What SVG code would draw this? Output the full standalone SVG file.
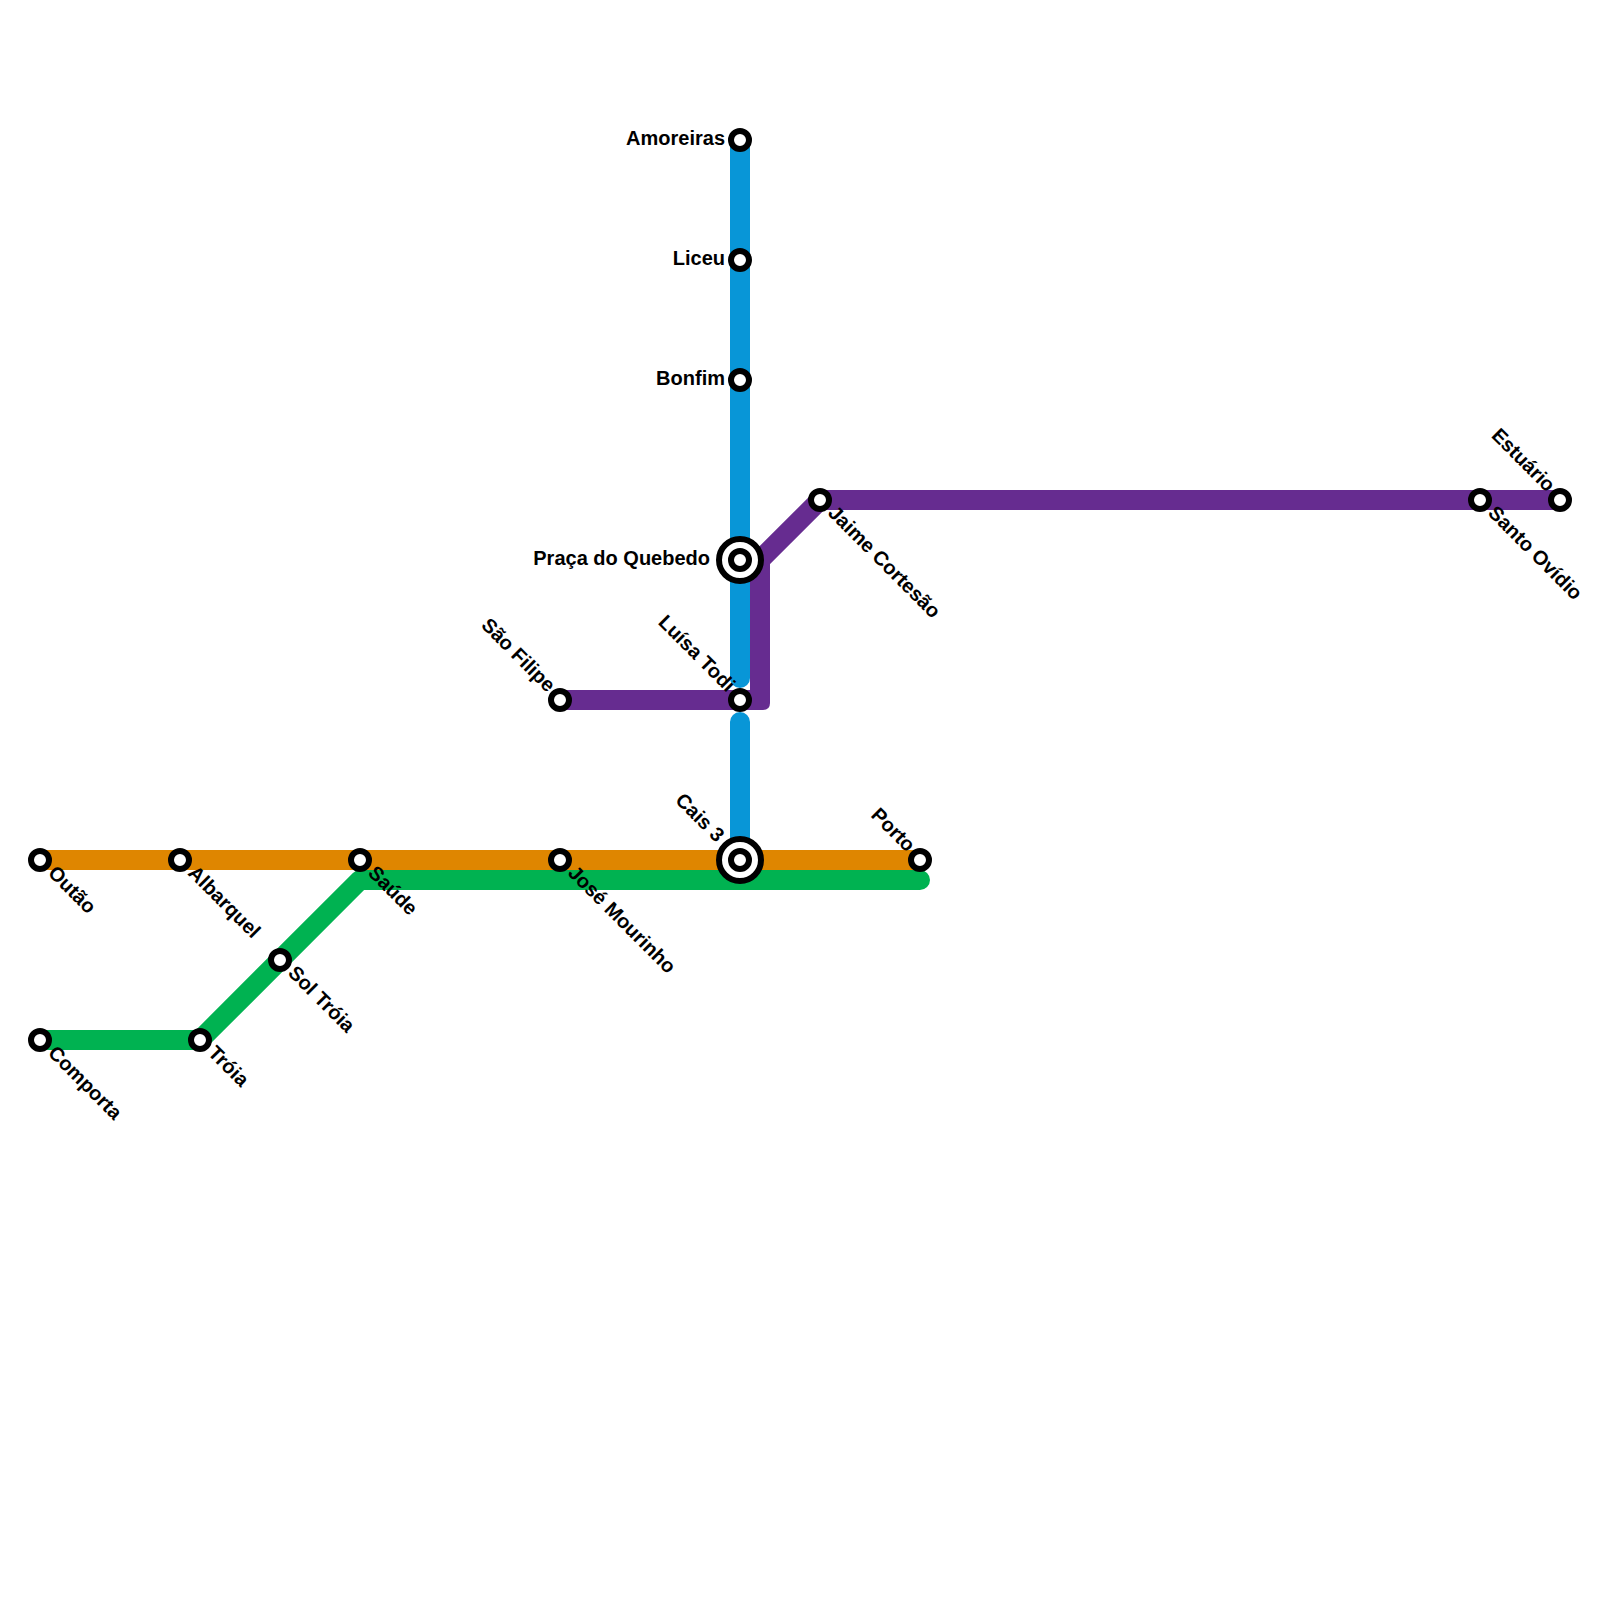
<svg xmlns="http://www.w3.org/2000/svg" width="1600" height="1600" viewBox="0 0 1600 1600">
<style>
.l{fill:none;stroke-width:20;stroke-linejoin:round;stroke-linecap:round}
.s{fill:#fff;stroke:#000;stroke-width:6}
.t{font-family:"Liberation Sans",Arial,sans-serif;font-size:20px;font-weight:700;fill:#000}
.e{text-anchor:end}
</style>
<rect width="1600" height="1600" fill="#fff"/>
<g id="connectors">
<path class="l" stroke="#df8600" d="M40 860H920"/>
<path class="l" stroke="#00b251" d="M40 1040H200L360 880H920"/>
<path class="l" stroke="#0896d7" d="M740 140V678M740 722V860"/>
<path fill="#662c90" d="M560 690H770V703Q770 710 763 710H560Z"/>
<path class="l" stroke="#662c90" style="stroke-linejoin:miter;stroke-linecap:butt" d="M760 700V560L820 500H1560"/>
</g>
<g id="amoreiras"><circle class="s" cx="740" cy="140" r="9"/><text class="t e" x="725" y="145">Amoreiras</text></g>
<g id="liceu"><circle class="s" cx="740" cy="260" r="9"/><text class="t e" x="725" y="265">Liceu</text></g>
<g id="bonfim"><circle class="s" cx="740" cy="380" r="9"/><text class="t e" x="725" y="385">Bonfim</text></g>
<g id="praca"><circle class="s" cx="740" cy="560" r="21"/><circle class="s" cx="740" cy="560" r="9"/><text class="t e" x="710" y="565">Praça do Quebedo</text></g>
<g id="luisa"><circle class="s" cx="740" cy="700" r="9"/><text class="t e" transform="translate(727 693) rotate(45)">Luísa Todi</text></g>
<g id="saofilipe"><circle class="s" cx="560" cy="700" r="9"/><text class="t e" transform="translate(547 693) rotate(45)">São Filipe</text></g>
<g id="cais"><circle class="s" cx="740" cy="860" r="21"/><circle class="s" cx="740" cy="860" r="9"/><text class="t e" transform="translate(716 843) rotate(45)">Cais 3</text></g>
<g id="porto"><circle class="s" cx="920" cy="860" r="9"/><text class="t e" transform="translate(907 853) rotate(45)">Porto</text></g>
<g id="jaime"><circle class="s" cx="820" cy="500" r="9"/><text class="t" transform="translate(827 514) rotate(45)">Jaime Cortesão</text></g>
<g id="santo"><circle class="s" cx="1480" cy="500" r="9"/><text class="t" transform="translate(1487 514) rotate(45)">Santo Ovídio</text></g>
<g id="estuario"><circle class="s" cx="1560" cy="500" r="9"/><text class="t e" transform="translate(1547 493) rotate(45)">Estuário</text></g>
<g id="outao"><circle class="s" cx="40" cy="860" r="9"/><text class="t" transform="translate(47 874) rotate(45)">Outão</text></g>
<g id="albarquel"><circle class="s" cx="180" cy="860" r="9"/><text class="t" transform="translate(187 874) rotate(45)">Albarquel</text></g>
<g id="saude"><circle class="s" cx="360" cy="860" r="9"/><text class="t" transform="translate(367 874) rotate(45)">Saúde</text></g>
<g id="jose"><circle class="s" cx="560" cy="860" r="9"/><text class="t" transform="translate(567 874) rotate(45)">José Mourinho</text></g>
<g id="sol"><circle class="s" cx="280" cy="960" r="9"/><text class="t" transform="translate(287 974) rotate(45)">Sol Tróia</text></g>
<g id="troia"><circle class="s" cx="200" cy="1040" r="9"/><text class="t" transform="translate(207 1054) rotate(45)">Tróia</text></g>
<g id="comporta"><circle class="s" cx="40" cy="1040" r="9"/><text class="t" transform="translate(47 1054) rotate(45)">Comporta</text></g>
</svg>
